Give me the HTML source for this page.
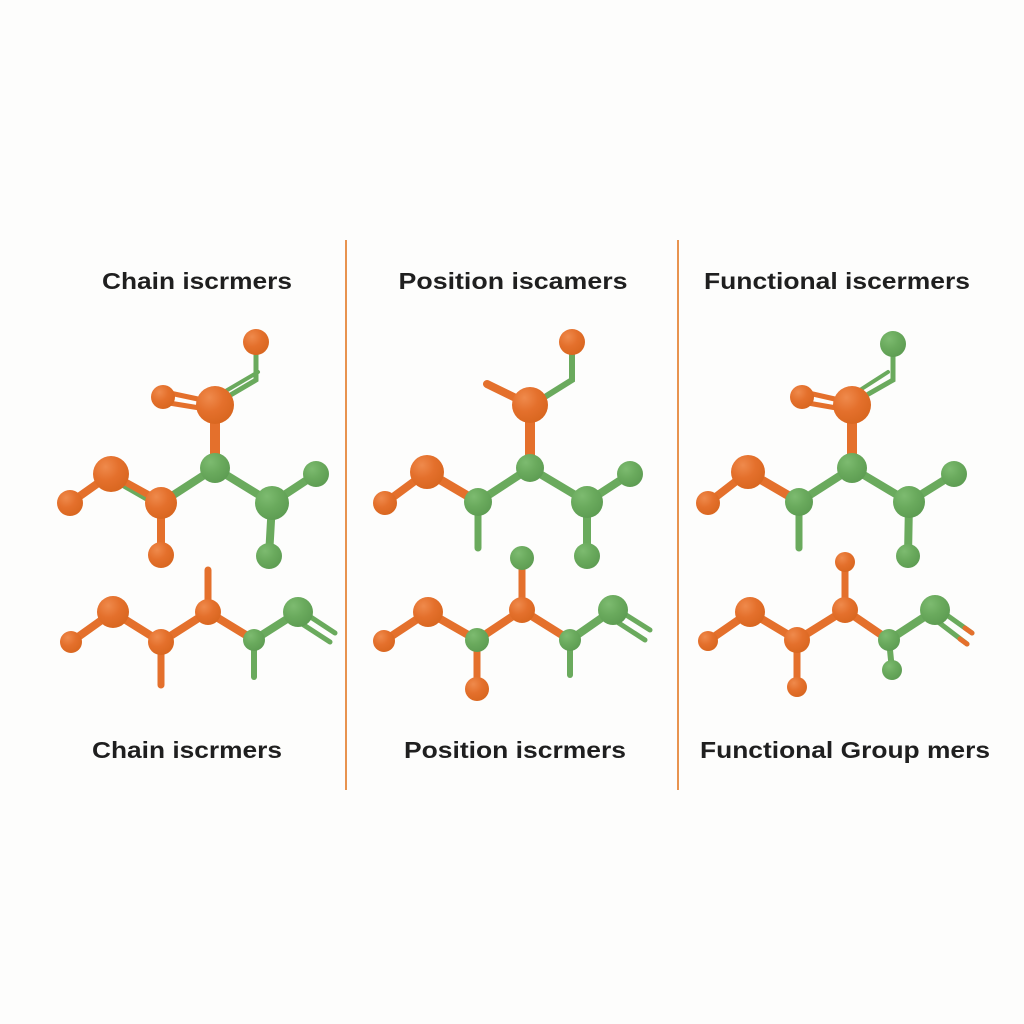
<!DOCTYPE html>
<html><head><meta charset="utf-8"><style>
html,body{margin:0;padding:0;background:#fdfdfc;}
svg{display:block;}
text{font-family:"Liberation Sans",sans-serif;font-weight:bold;fill:#1f1f1f;font-size:23px;}
</style></head><body>
<svg width="1024" height="1024" viewBox="0 0 1024 1024" xmlns="http://www.w3.org/2000/svg">
<defs>
<radialGradient id="go" cx="0.35" cy="0.3" r="0.75"><stop offset="0" stop-color="#ef8a4c"/><stop offset="0.5" stop-color="#e4702c"/><stop offset="1" stop-color="#d8661f"/></radialGradient>
<radialGradient id="gg" cx="0.35" cy="0.3" r="0.75"><stop offset="0" stop-color="#7dbb70"/><stop offset="0.5" stop-color="#6aaa5d"/><stop offset="1" stop-color="#5d9c52"/></radialGradient>
</defs>
<rect width="1024" height="1024" fill="#fdfdfc"/>
<line x1="346" y1="240" x2="346" y2="790" stroke="#e8934f" stroke-width="2"/>
<line x1="678" y1="240" x2="678" y2="790" stroke="#e8934f" stroke-width="2"/>

<text x="197" y="289" text-anchor="middle" textLength="190" lengthAdjust="spacingAndGlyphs">Chain iscrmers</text>
<text x="513" y="289" text-anchor="middle" textLength="229" lengthAdjust="spacingAndGlyphs">Position iscamers</text>
<text x="837" y="289" text-anchor="middle" textLength="266" lengthAdjust="spacingAndGlyphs">Functional iscermers</text>
<text x="187" y="758" text-anchor="middle" textLength="190" lengthAdjust="spacingAndGlyphs">Chain iscrmers</text>
<text x="515" y="758" text-anchor="middle" textLength="222" lengthAdjust="spacingAndGlyphs">Position iscrmers</text>
<text x="845" y="758" text-anchor="middle" textLength="290" lengthAdjust="spacingAndGlyphs">Functional Group mers</text>

<g stroke-linecap="round" fill="none">
<!-- Panel 1 top -->
<path d="M256,355 L256,380 L222,400" stroke="#6aaa5d" stroke-width="5"/>
<path d="M258,372 L224,392" stroke="#6aaa5d" stroke-width="4"/>
<path d="M165,392 L212,402 M163,402 L212,410" stroke="#e4702c" stroke-width="5"/>
<line x1="215" y1="405" x2="215" y2="468" stroke="#e4702c" stroke-width="10"/>
<line x1="215" y1="468" x2="161" y2="503" stroke="#6aaa5d" stroke-width="8"/>
<line x1="114" y1="478" x2="161" y2="505" stroke="#6aaa5d" stroke-width="9"/>
<line x1="111" y1="474" x2="158" y2="500" stroke="#e4702c" stroke-width="7"/>
<line x1="70" y1="503" x2="111" y2="474" stroke="#e4702c" stroke-width="8"/>
<line x1="161" y1="503" x2="161" y2="555" stroke="#e4702c" stroke-width="8"/>
<line x1="215" y1="468" x2="272" y2="503" stroke="#6aaa5d" stroke-width="8"/>
<line x1="272" y1="503" x2="316" y2="474" stroke="#6aaa5d" stroke-width="8"/>
<line x1="272" y1="503" x2="269" y2="556" stroke="#6aaa5d" stroke-width="8"/>
<!-- Panel 1 bottom -->
<path d="M71,642 L113,612 L161,642 L208,612 L254,640" stroke="#e4702c" stroke-width="8"/>
<line x1="161" y1="642" x2="161" y2="685" stroke="#e4702c" stroke-width="7"/>
<line x1="208" y1="612" x2="208" y2="570" stroke="#e4702c" stroke-width="7"/>
<path d="M254,640 L298,612" stroke="#6aaa5d" stroke-width="8"/>
<line x1="254" y1="640" x2="254" y2="677" stroke="#6aaa5d" stroke-width="6"/>
<path d="M300,610 L335,633 M296,620 L330,642" stroke="#6aaa5d" stroke-width="5"/>

<!-- Panel 2 top -->
<path d="M572,355 L572,380 L532,405" stroke="#6aaa5d" stroke-width="6"/>
<line x1="487" y1="384" x2="530" y2="405" stroke="#e4702c" stroke-width="8"/>
<line x1="530" y1="405" x2="530" y2="468" stroke="#e4702c" stroke-width="10"/>
<line x1="530" y1="468" x2="478" y2="502" stroke="#6aaa5d" stroke-width="8"/>
<line x1="427" y1="472" x2="478" y2="502" stroke="#e4702c" stroke-width="9"/>
<line x1="385" y1="503" x2="427" y2="472" stroke="#e4702c" stroke-width="8"/>
<line x1="478" y1="502" x2="478" y2="548" stroke="#6aaa5d" stroke-width="7"/>
<line x1="530" y1="468" x2="587" y2="502" stroke="#6aaa5d" stroke-width="8"/>
<line x1="587" y1="502" x2="630" y2="474" stroke="#6aaa5d" stroke-width="8"/>
<line x1="587" y1="502" x2="587" y2="556" stroke="#6aaa5d" stroke-width="8"/>
<!-- Panel 2 bottom -->
<path d="M384,641 L428,612 L477,640 L522,610 L570,640" stroke="#e4702c" stroke-width="8"/>
<line x1="477" y1="640" x2="477" y2="689" stroke="#e4702c" stroke-width="7"/>
<line x1="522" y1="610" x2="522" y2="557" stroke="#e4702c" stroke-width="7"/>
<line x1="570" y1="640" x2="613" y2="610" stroke="#6aaa5d" stroke-width="8"/>
<line x1="570" y1="640" x2="570" y2="675" stroke="#6aaa5d" stroke-width="6"/>
<path d="M615,608 L650,630 M611,618 L645,640" stroke="#6aaa5d" stroke-width="5"/>

<!-- Panel 3 top -->
<path d="M893,357 L893,380 L858,400" stroke="#6aaa5d" stroke-width="5"/>
<path d="M888,372 L860,390" stroke="#6aaa5d" stroke-width="4"/>
<path d="M804,392 L848,402 M802,402 L848,410" stroke="#e4702c" stroke-width="5"/>
<line x1="852" y1="405" x2="852" y2="468" stroke="#e4702c" stroke-width="10"/>
<line x1="852" y1="468" x2="799" y2="502" stroke="#6aaa5d" stroke-width="8"/>
<line x1="748" y1="472" x2="796" y2="500" stroke="#e4702c" stroke-width="9"/>
<line x1="708" y1="503" x2="748" y2="472" stroke="#e4702c" stroke-width="8"/>
<line x1="799" y1="502" x2="799" y2="548" stroke="#6aaa5d" stroke-width="7"/>
<line x1="852" y1="468" x2="909" y2="502" stroke="#6aaa5d" stroke-width="8"/>
<line x1="909" y1="502" x2="954" y2="474" stroke="#6aaa5d" stroke-width="8"/>
<line x1="909" y1="502" x2="908" y2="556" stroke="#6aaa5d" stroke-width="8"/>
<!-- Panel 3 bottom -->
<path d="M708,641 L750,612 L797,640 L845,610 L889,640" stroke="#e4702c" stroke-width="8"/>
<line x1="797" y1="640" x2="797" y2="687" stroke="#e4702c" stroke-width="7"/>
<line x1="845" y1="610" x2="845" y2="562" stroke="#e4702c" stroke-width="7"/>
<line x1="889" y1="640" x2="935" y2="610" stroke="#6aaa5d" stroke-width="8"/>
<line x1="889" y1="640" x2="892" y2="670" stroke="#6aaa5d" stroke-width="6"/>
<path d="M937,608 L972,633 M933,618 L967,644" stroke="#6aaa5d" stroke-width="5"/>
<path d="M965,628 L972,633 M960,639 L967,644" stroke="#e4702c" stroke-width="5"/>
</g>

<g>
<!-- Panel 1 atoms -->
<circle cx="256" cy="342" r="13" fill="url(#go)"/>
<circle cx="163" cy="397" r="12" fill="url(#go)"/>
<circle cx="215" cy="405" r="19" fill="url(#go)"/>
<circle cx="215" cy="468" r="15" fill="url(#gg)"/>
<circle cx="111" cy="474" r="18" fill="url(#go)"/>
<circle cx="161" cy="503" r="16" fill="url(#go)"/>
<circle cx="70" cy="503" r="13" fill="url(#go)"/>
<circle cx="161" cy="555" r="13" fill="url(#go)"/>
<circle cx="272" cy="503" r="17" fill="url(#gg)"/>
<circle cx="316" cy="474" r="13" fill="url(#gg)"/>
<circle cx="269" cy="556" r="13" fill="url(#gg)"/>
<circle cx="71" cy="642" r="11" fill="url(#go)"/>
<circle cx="113" cy="612" r="16" fill="url(#go)"/>
<circle cx="161" cy="642" r="13" fill="url(#go)"/>
<circle cx="208" cy="612" r="13" fill="url(#go)"/>
<circle cx="254" cy="640" r="11" fill="url(#gg)"/>
<circle cx="298" cy="612" r="15" fill="url(#gg)"/>
<!-- Panel 2 atoms -->
<circle cx="572" cy="342" r="13" fill="url(#go)"/>
<circle cx="530" cy="405" r="18" fill="url(#go)"/>
<circle cx="530" cy="468" r="14" fill="url(#gg)"/>
<circle cx="478" cy="502" r="14" fill="url(#gg)"/>
<circle cx="427" cy="472" r="17" fill="url(#go)"/>
<circle cx="385" cy="503" r="12" fill="url(#go)"/>
<circle cx="587" cy="502" r="16" fill="url(#gg)"/>
<circle cx="630" cy="474" r="13" fill="url(#gg)"/>
<circle cx="587" cy="556" r="13" fill="url(#gg)"/>
<circle cx="384" cy="641" r="11" fill="url(#go)"/>
<circle cx="428" cy="612" r="15" fill="url(#go)"/>
<circle cx="477" cy="640" r="12" fill="url(#gg)"/>
<circle cx="477" cy="689" r="12" fill="url(#go)"/>
<circle cx="522" cy="610" r="13" fill="url(#go)"/>
<circle cx="522" cy="558" r="12" fill="url(#gg)"/>
<circle cx="570" cy="640" r="11" fill="url(#gg)"/>
<circle cx="613" cy="610" r="15" fill="url(#gg)"/>
<!-- Panel 3 atoms -->
<circle cx="893" cy="344" r="13" fill="url(#gg)"/>
<circle cx="802" cy="397" r="12" fill="url(#go)"/>
<circle cx="852" cy="405" r="19" fill="url(#go)"/>
<circle cx="852" cy="468" r="15" fill="url(#gg)"/>
<circle cx="799" cy="502" r="14" fill="url(#gg)"/>
<circle cx="748" cy="472" r="17" fill="url(#go)"/>
<circle cx="708" cy="503" r="12" fill="url(#go)"/>
<circle cx="909" cy="502" r="16" fill="url(#gg)"/>
<circle cx="954" cy="474" r="13" fill="url(#gg)"/>
<circle cx="908" cy="556" r="12" fill="url(#gg)"/>
<circle cx="708" cy="641" r="10" fill="url(#go)"/>
<circle cx="750" cy="612" r="15" fill="url(#go)"/>
<circle cx="797" cy="640" r="13" fill="url(#go)"/>
<circle cx="797" cy="687" r="10" fill="url(#go)"/>
<circle cx="845" cy="610" r="13" fill="url(#go)"/>
<circle cx="845" cy="562" r="10" fill="url(#go)"/>
<circle cx="889" cy="640" r="11" fill="url(#gg)"/>
<circle cx="892" cy="670" r="10" fill="url(#gg)"/>
<circle cx="935" cy="610" r="15" fill="url(#gg)"/>
<circle cx="908" cy="558" r="0" fill="none"/>
</g>
</svg>
</body></html>
